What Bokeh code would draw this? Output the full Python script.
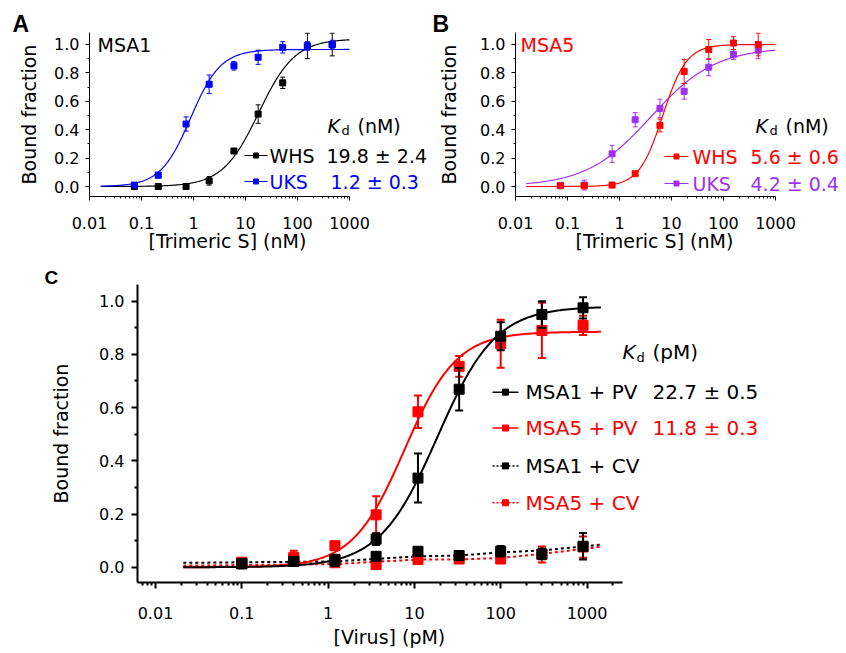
import numpy as np
from bokeh.plotting import figure
from bokeh.layouts import column, row
from bokeh.models import Range1d, FixedTicker, CustomJSTickFormatter, NumeralTickFormatter, Label, Title
from bokeh.embed import file_html
from bokeh.resources import INLINE

FONT = "DejaVu Sans"
BOLD = "Liberation Sans"
RED = "#ff0000"
BLUE = "#0000ff"
PURPLE = "#a030f0"
BLACK = "#000000"

# ---------------- data ----------------
x_ticks = [0.01, 0.1, 1, 10, 100, 1000]
x_tick_labels = ["0.01", "0.1", "1", "10", "100", "1000"]
y_ticks = [0.0, 0.2, 0.4, 0.6, 0.8, 1.0]

# Panel A / B: trimeric S concentrations (nM)
conc_S = [0.073, 0.21, 0.72, 2.0, 6.0, 17.5, 52, 155, 465]
# Panel A: MSA1
msa1_whs = [0.0, 0.0, 0.0, 0.04, 0.25, 0.51, 0.73, 0.99, 1.0]
msa1_whs_err = [0.005, 0.005, 0.005, 0.03, 0.01, 0.065, 0.04, 0.09, 0.08]
msa1_uks = [0.01, 0.08, 0.44, 0.72, 0.85, 0.91, 0.98, 0.99, 1.0]
msa1_uks_err = [0.015, 0.02, 0.05, 0.065, 0.03, 0.05, 0.04, 0.03, 0.03]
# Panel B: MSA5
msa5_whs = [0.005, 0.005, 0.01, 0.09, 0.43, 0.81, 0.965, 1.01, 1.0]
msa5_whs_err = [0.005, 0.005, 0.01, 0.01, 0.045, 0.085, 0.07, 0.045, 0.08]
msa5_uks = [0.007, 0.01, 0.23, 0.47, 0.55, 0.67, 0.84, 0.93, 0.96]
msa5_uks_err = [0.01, 0.035, 0.06, 0.05, 0.065, 0.055, 0.06, 0.035, 0.06]

# Panel C: virus concentration (pM)
conc_V = [0.1, 0.4, 1.2, 3.6, 11, 33, 100, 300, 900]
msa1_pv = [0.013, 0.022, 0.025, 0.106, 0.335, 0.669, 0.868, 0.95, 0.975]
msa1_pv_err = [0.01, 0.015, 0.02, 0.022, 0.092, 0.08, 0.053, 0.05, 0.04]
msa5_pv = [0.019, 0.037, 0.081, 0.197, 0.584, 0.755, 0.84, 0.89, 0.909]
msa5_pv_err = [0.01, 0.025, 0.014, 0.07, 0.061, 0.039, 0.09, 0.104, 0.036]
msa1_cv = [0.013, 0.022, 0.03, 0.041, 0.06, 0.044, 0.06, 0.05, 0.079]
msa1_cv_err = [0.008, 0.01, 0.01, 0.01, 0.012, 0.01, 0.02, 0.02, 0.05]
msa5_cv = [0.015, 0.03, 0.017, 0.01, 0.029, 0.031, 0.031, 0.048, 0.076]
msa5_cv_err = [0.008, 0.01, 0.01, 0.012, 0.01, 0.01, 0.01, 0.03, 0.04]
# dotted CV trend lines
cv_line_x = [0.021, 1.2, 11, 33, 100, 300, 1450]
msa1_cv_line = [0.0165, 0.022, 0.041, 0.044, 0.056, 0.063, 0.085]
msa5_cv_line = [0.006, 0.012, 0.029, 0.029, 0.035, 0.05, 0.077]

# Fitted binding curves: (midpoint, Hill slope, plateau)
fit_msa1_whs = (18.0, 1.25, 1.04)
fit_msa1_uks = (0.88, 1.5, 0.965)
fit_msa5_whs = (6.8, 1.9, 1.0)
fit_msa5_uks = (4.0, 0.7, 0.98)
fit_msa1_pv = (18.5, 1.29, 0.98)
fit_msa5_pv = (7.7, 1.44, 0.885)


def hill(xs, prm):
    k, n, b = prm
    xs = np.asarray(xs)
    return b * xs ** n / (k ** n + xs ** n)


# ---------------- helpers ----------------
class Geo:
    """page-pixel geometry of one panel: frame box + log-x/lin-y mapping"""
    def __init__(self, page_x0, page_y0, width, height, fl, ft, fb, lx0, decade, y0, y1):
        self.px0, self.py0, self.w, self.h = page_x0, page_y0, width, height
        self.fl, self.ft, self.fb = fl, ft, fb
        self.fr = page_x0 + width          # frame runs to the right edge of the figure
        self.lx0, self.dec = lx0, decade
        self.lx1 = lx0 + (self.fr - fl) / decade
        self.y0, self.y1 = y0, y1

    def X(self, px):
        return 10 ** (self.lx0 + (px - self.fl) / self.dec)

    def Y(self, py):
        return self.y0 + (self.fb - py) / (self.fb - self.ft) * (self.y1 - self.y0)


def make_panel(g, xbounds, axis_w, tick_out, minor_out, ylab_standoff,
               xtick_standoff, ytick_standoff, xlabel, xlabel_left, xlabel_standoff,
               ylabel, lab_size, letter, letter_size, letter_left, letter_standoff):
    p = figure(width=g.w, height=g.h, x_axis_type="log",
               x_range=Range1d(10 ** g.lx0, 10 ** g.lx1), y_range=Range1d(g.y0, g.y1),
               output_backend="svg", toolbar_location=None,
               min_border_left=g.fl - g.px0, min_border_right=0,
               min_border_top=g.ft - g.py0, min_border_bottom=g.py0 + g.h - g.fb)
    p.outline_line_color = None
    p.xgrid.visible = False
    p.ygrid.visible = False
    p.background_fill_color = "white"
    p.border_fill_color = "white"
    minor = [m * 10.0 ** d for d in range(-3, 4) for m in range(2, 10)]
    minor = [v for v in minor if xbounds[0] <= v <= xbounds[1]]
    p.xaxis.ticker = FixedTicker(ticks=x_ticks, minor_ticks=minor)
    p.xaxis.formatter = CustomJSTickFormatter(
        args=dict(tvals=x_ticks, tlabs=x_tick_labels),
        code="""
        for (let i = 0; i < tvals.length; i++) {
            if (Math.abs(Math.log10(tvals[i]) - Math.log10(tick)) < 1e-6) return tlabs[i];
        }
        return '';
        """)
    p.xaxis.bounds = xbounds
    p.yaxis.ticker = FixedTicker(ticks=y_ticks, minor_ticks=[0.1, 0.3, 0.5, 0.7, 0.9])
    p.yaxis.formatter = NumeralTickFormatter(format="0.0")
    for ax in (p.xaxis, p.yaxis):
        ax.axis_line_width = axis_w
        ax.axis_line_color = "black"
        ax.major_tick_line_width = axis_w
        ax.minor_tick_line_width = axis_w
        ax.major_tick_in = 0
        ax.major_tick_out = tick_out
        ax.minor_tick_in = 0
        ax.minor_tick_out = minor_out
        ax.major_label_text_font = FONT
        ax.major_label_text_font_size = "16px"
        ax.major_label_text_color = "black"
        ax.axis_label_text_font = FONT
        ax.axis_label_text_font_size = lab_size
        ax.axis_label_text_font_style = "normal"
        ax.axis_label_text_color = "black"
    p.yaxis.axis_label = ylabel
    p.yaxis.axis_label_standoff = ylab_standoff
    p.xaxis.major_label_standoff = xtick_standoff
    p.yaxis.major_label_standoff = ytick_standoff
    # x-axis title, centred under the drawn (bounded) axis
    p.add_layout(Title(text=xlabel, text_font=FONT, text_font_size=lab_size,
                       text_font_style="normal", text_color="black", align="left",
                       vertical_align="top", offset=xlabel_left - g.fl,
                       standoff=xlabel_standoff), "below")
    # panel letter
    p.title.text = letter
    p.title.text_font = BOLD
    p.title.text_font_size = letter_size
    p.title.text_font_style = "bold"
    p.title.text_color = "black"
    p.title.align = "left"
    p.title.offset = letter_left - g.fl
    p.title.standoff = letter_standoff
    return p


def add_series(p, xs, ys, errs, color, msize, cap, lw):
    xs = np.asarray(xs, float)
    ys = np.asarray(ys, float)
    errs = np.asarray(errs, float)
    p.segment(xs, ys - errs, xs, ys + errs, line_color=color, line_width=lw)
    p.scatter(xs, ys - errs, marker="dash", size=cap, line_color=color, line_width=lw)
    p.scatter(xs, ys + errs, marker="dash", size=cap, line_color=color, line_width=lw)
    p.scatter(xs, ys, marker="square", size=msize, fill_color=color, line_color=color)


def label(p, g, px, py, text, color="black", size="19px", font=FONT, style="normal",
          align="left", baseline="middle"):
    p.add_layout(Label(x=g.X(px), y=g.Y(py), text=text, text_color=color,
                       text_font=font, text_font_size=size, text_font_style=style,
                       text_align=align, text_baseline=baseline))


def kd_label(p, g, px, py, unit, size="19px"):
    label(p, g, px, py, "K", size=size, style="italic")
    label(p, g, px + 14, py + 5, "d", size="13px")
    label(p, g, px + 30, py, unit, size=size)


def legend_row(p, g, x0, x1, py, color, dash, msize, lw, name, val, tx, vx, size):
    xs = [g.X(x0), g.X(x1)]
    p.line(xs, [g.Y(py)] * 2, line_color=color, line_width=lw, line_dash=dash)
    p.scatter([g.X((x0 + x1) / 2)], [g.Y(py)], marker="square", size=msize,
              fill_color=color, line_color=color)
    label(p, g, tx, py, name, color=color, size=size)
    if val:
        label(p, g, vx, py, val, color=color, size=size)


# ---------------- panel A ----------------
gA = Geo(0, 0, 428, 258, 89, 32, 196, -2, 52.0, -0.0704, 1.0845)
pA = make_panel(gA, (0.01, 1000), 1, 4, 2, 11, 16, 6,
                "[Trimeric S] (nM)", 148, -4, "Bound fraction", "19px", "A", "23px", 12, -9)
xc = np.logspace(np.log10(0.0165), 3, 300)
pA.line(xc, hill(xc, fit_msa1_whs), line_color=BLACK, line_width=1.2)
pA.line(xc, hill(xc, fit_msa1_uks), line_color=BLUE, line_width=1.2)
add_series(pA, conc_S, msa1_whs, msa1_whs_err, BLACK, 6, 5, 1)
add_series(pA, conc_S, msa1_uks, msa1_uks_err, BLUE, 6, 5, 1)
label(pA, gA, 97, 44, "MSA1", size="19px")
kd_label(pA, gA, 327, 125, "(nM)")
legend_row(pA, gA, 244, 267, 155, BLACK, "solid", 5, 1.2, "WHS", "19.8 ± 2.4", 269, 326, "19px")
legend_row(pA, gA, 244, 267, 181, BLUE, "solid", 5, 1.2, "UKS", "1.2 ± 0.3", 269, 330, "19px")

# ---------------- panel B ----------------
gB = Geo(428, 0, 416, 258, 515, 32, 196, -2, 52.0, -0.0704, 1.0845)
pB = make_panel(gB, (0.01, 1000), 1, 4, 2, 17, 16, 6,
                "[Trimeric S] (nM)", 575, -4, "Bound fraction", "19px", "B", "23px", 432, -9)
xcb = np.logspace(np.log10(0.016), 3, 300)
pB.line(xcb, hill(xcb, fit_msa5_uks), line_color=PURPLE, line_width=1.2)
pB.line(xcb, hill(xcb, fit_msa5_whs), line_color=RED, line_width=1.2)
add_series(pB, conc_S, msa5_uks, msa5_uks_err, PURPLE, 6, 5, 1)
add_series(pB, conc_S, msa5_whs, msa5_whs_err, RED, 6, 5, 1)
label(pB, gB, 520, 44, "MSA5", color=RED, size="19px")
kd_label(pB, gB, 755, 125, "(nM)")
legend_row(pB, gB, 664, 688, 156, RED, "solid", 5, 1.2, "WHS", "5.6 ± 0.6", 692, 750, "19px")
legend_row(pB, gB, 664, 688, 183, PURPLE, "solid", 5, 1.2, "UKS", "4.2 ± 0.4", 692, 750, "19px")

# ---------------- panel C ----------------
gC = Geo(0, 258, 844, 395, 137, 284, 583, -2.2086, 86.3, -0.0573, 1.0625)
pC = make_panel(gC, (10 ** -2.2086, 10 ** 3.409), 2, 6, 3, 24, 18, 7,
                "[Virus] (pM)", 333, 8, "Bound fraction", "19px", "C", "19px", 44, -6)
xcc = np.logspace(np.log10(0.021), np.log10(1450), 300)
pC.line(cv_line_x, msa5_cv_line, line_color=RED, line_width=2, line_dash="3 3")
pC.line(cv_line_x, msa1_cv_line, line_color=BLACK, line_width=2, line_dash="3 3")
pC.line(xcc, hill(xcc, fit_msa5_pv), line_color=RED, line_width=2)
pC.line(xcc, hill(xcc, fit_msa1_pv), line_color=BLACK, line_width=2)
add_series(pC, conc_V, msa5_cv, msa5_cv_err, RED, 10, 8, 2)
add_series(pC, conc_V, msa5_pv, msa5_pv_err, RED, 10, 8, 2)
add_series(pC, conc_V, msa1_cv, msa1_cv_err, BLACK, 10, 8, 2)
add_series(pC, conc_V, msa1_pv, msa1_pv_err, BLACK, 10, 8, 2)
kd_label(pC, gC, 622, 352, "(pM)", size="20px")
legend_row(pC, gC, 492, 518, 392, BLACK, "solid", 6, 1.5, "MSA1 + PV", "22.7 ± 0.5", 525, 652, "20px")
legend_row(pC, gC, 492, 518, 428, RED, "solid", 6, 1.5, "MSA5 + PV", "11.8 ± 0.3", 525, 652, "20px")
legend_row(pC, gC, 492, 518, 466, BLACK, "2 2", 6, 1.5, "MSA1 + CV", "", 525, 652, "20px")
legend_row(pC, gC, 492, 518, 503, RED, "2 2", 6, 1.5, "MSA5 + CV", "", 525, 652, "20px")

layout = column(row(pA, pB, spacing=0), pC, spacing=0)
open("out.html", "w").write(file_html(layout, INLINE))
